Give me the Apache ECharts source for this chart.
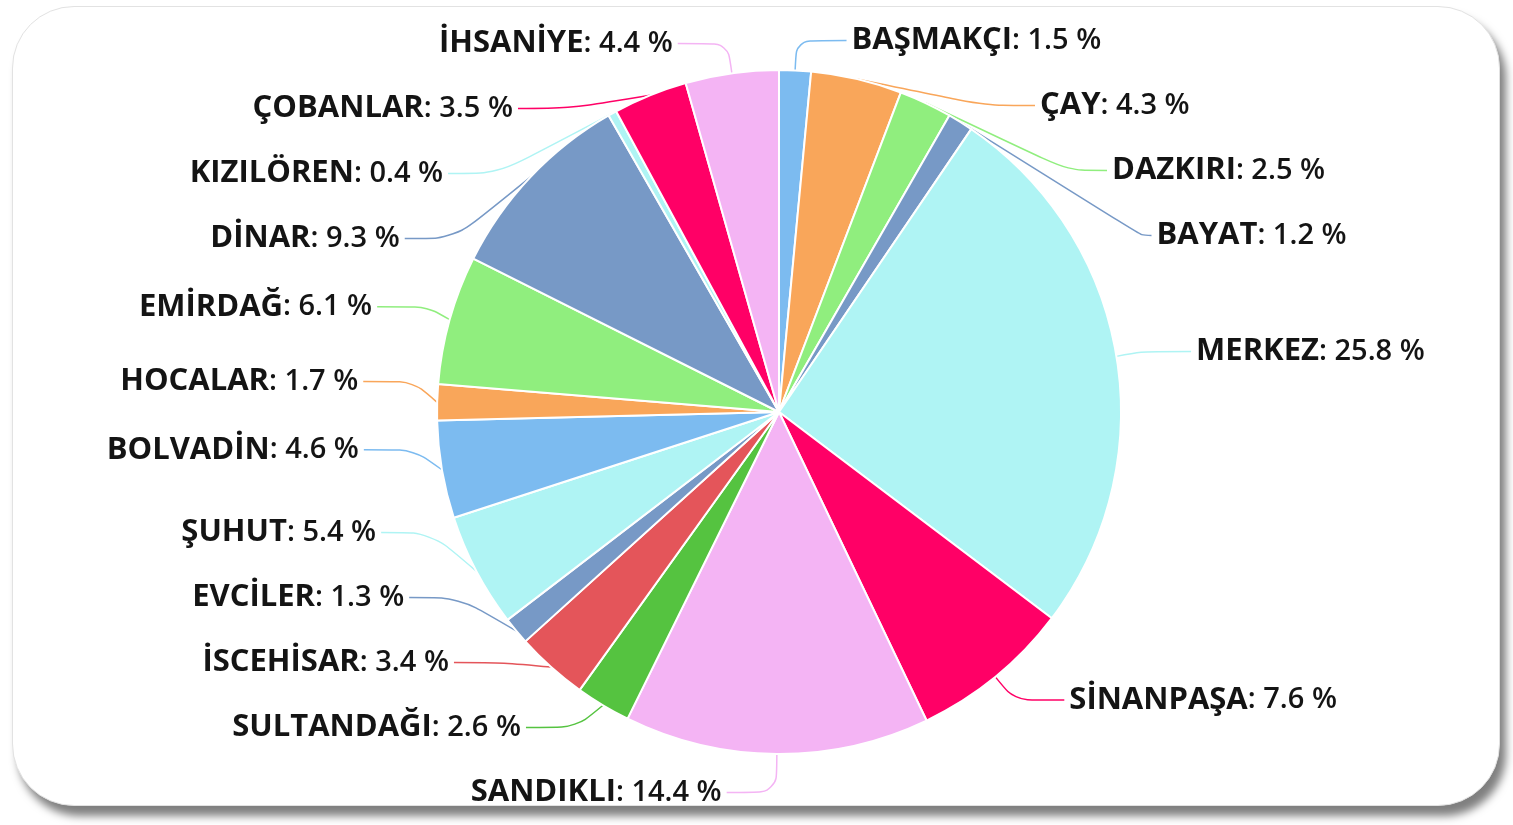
<!DOCTYPE html>
<html><head><meta charset="utf-8">
<script src="https://cdn.jsdelivr.net/npm/echarts@6/dist/echarts.min.js"></script>
<style>
html,body{margin:0;padding:0;background:#fff;width:1513px;height:825px;overflow:hidden}
#box{position:absolute;left:12px;top:6px;width:1486px;height:798px;border-radius:62px;border:1px solid #e2e2e2;background:#fff;box-shadow:6px 10px 9px rgba(0,0,0,0.5)}
#chart{position:absolute;left:0;top:0;width:1513px;height:825px}
</style></head><body>
<div id="box"></div>
<div id="chart"></div>
<script>
const names = ['BAŞMAKÇI','ÇAY','DAZKIRI','BAYAT','MERKEZ','SİNANPAŞA','SANDIKLI','SULTANDAĞI','İSCEHİSAR','EVCİLER','ŞUHUT','BOLVADİN','HOCALAR','EMİRDAĞ','DİNAR','KIZILÖREN','ÇOBANLAR','İHSANİYE'];
const values = [1.5,4.3,2.5,1.2,25.8,7.6,14.4,2.6,3.4,1.3,5.4,4.6,1.7,6.1,9.3,0.4,3.5,4.4];
const colors = ['#7cbbf0','#f9a65a','#90ee7e','#7799c6','#aff4f4','#ff0066','#f4b4f4','#55c340','#e4555a','#7799c6','#aff4f4','#7cbbf0','#f9a65a','#90ee7e','#7799c6','#aff4f4','#ff0066','#f4b4f4'];

const chart = echarts.init(document.getElementById('chart'), null, {renderer:'canvas'});
chart.setOption({
  animation:false,
  series:[{
    type:'pie',
    center:[779,412],
    radius:342,
    startAngle:90,
    clockwise:true,
    data:names.map((n,i)=>({name:n,value:values[i],itemStyle:{color:colors[i]}})),
    itemStyle:{borderColor:'#fff',borderWidth:2},
    label:{
      show:true,position:'outside',
      minMargin:34,
      formatter:'{n|{b}}{v|: {c} %}',
      rich:{
        n:{fontFamily:'Open Sans',fontWeight:'bold',fontSize:31,color:'#141414'},
        v:{fontFamily:'Open Sans',fontWeight:600,fontSize:29,color:'#141414'}
      }
    },
    labelLine:{show:true,length:30,length2:50,smooth:0.3,lineStyle:{width:1.5}}
  }]
});
</script>
</body></html>
